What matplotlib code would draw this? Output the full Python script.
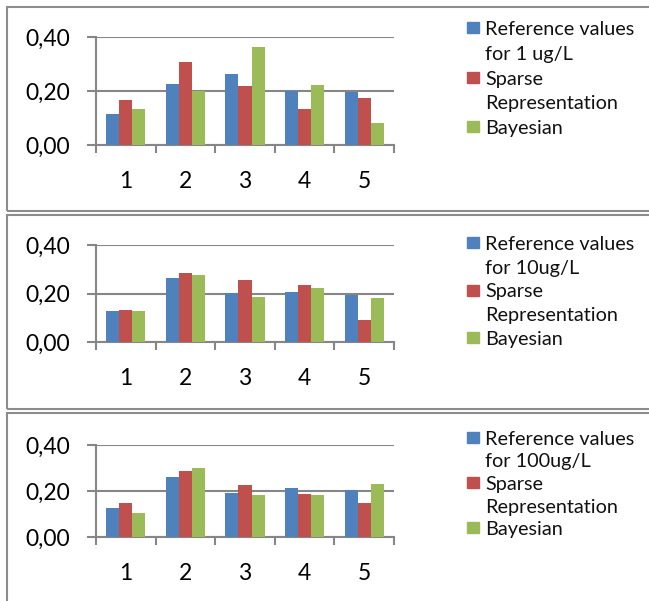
import matplotlib
matplotlib.use('Agg')
import matplotlib.pyplot as plt
import numpy as np
from matplotlib.patches import Rectangle

plt.rcParams['font.family'] = ['Lato', 'DejaVu Sans']

categories = ['1', '2', '3', '4', '5']
y_ticks = [0.0, 0.2, 0.4]
y_tick_labels = ['0,00', '0,20', '0,40']

ref_labels = ['Reference values\nfor 1 ug/L',
              'Reference values\nfor 10ug/L',
              'Reference values\nfor 100ug/L']
sparse_label = 'Sparse\nRepresentation'
bayes_label = 'Bayesian'

# panel 1: 1 ug/L
ref_1 = [0.113, 0.226, 0.263, 0.201, 0.195]
sparse_1 = [0.167, 0.307, 0.217, 0.133, 0.174]
bayes_1 = [0.134, 0.200, 0.362, 0.222, 0.080]

# panel 2: 10 ug/L
ref_10 = [0.129, 0.264, 0.201, 0.208, 0.192]
sparse_10 = [0.133, 0.284, 0.255, 0.234, 0.092]
bayes_10 = [0.127, 0.277, 0.186, 0.223, 0.182]

# panel 3: 100 ug/L
ref_100 = [0.127, 0.263, 0.190, 0.213, 0.204]
sparse_100 = [0.147, 0.285, 0.227, 0.187, 0.150]
bayes_100 = [0.104, 0.298, 0.183, 0.183, 0.229]

colors = ['#4F81BD', '#C0504D', '#9BBB59']
axis_gray = '#868686'

W, H = 649, 601
fig = plt.figure(figsize=(W / 100, H / 100), dpi=100)


def px_rect(x0, y_top, x1, y_bot):
    return [x0 / W, 1 - y_bot / H, (x1 - x0) / W, (y_bot - y_top) / H]


def fy(y):
    return 1 - y / H


# frame top/bottom, plot area top/bottom, legend first baseline and line pitch (pixels)
panels = [
    (7, 211, 37, 145, 35, 24.75, ref_labels[0], ref_1, sparse_1, bayes_1),
    (215, 409, 245, 342, 250, 23.75, ref_labels[1], ref_10, sparse_10, bayes_10),
    (413, 640, 445, 537, 445, 22.5, ref_labels[2], ref_100, sparse_100, bayes_100),
]

x = np.arange(len(categories))
bw = 0.22

for fr_top, fr_bot, ax_top, ax_bot, base0, pitch, rlab, r, s, b in panels:
    fig.patches.append(Rectangle((7 / W, fy(fr_bot)), 1.2, (fr_bot - fr_top) / H,
                                 transform=fig.transFigure, fill=False,
                                 edgecolor='#8c8c8c', linewidth=1.5))
    ax = fig.add_axes(px_rect(96, ax_top, 394, ax_bot))
    ax.bar(x - bw, r, bw, color=colors[0], zorder=3)
    ax.bar(x, s, bw, color=colors[1], zorder=3)
    ax.bar(x + bw, b, bw, color=colors[2], zorder=3)

    ax.set_xlim(-0.5, len(categories) - 0.5)
    ax.set_ylim(0, 0.4)
    ax.set_yticks(y_ticks)
    ax.set_yticklabels(y_tick_labels)
    ax.set_xticks(np.arange(len(categories) + 1) - 0.5)
    ax.set_xticklabels([])
    ax.set_xticks(x, minor=True)
    ax.set_xticklabels(categories, minor=True)
    ax.tick_params(axis='x', which='major', length=6, width=1.5, color=axis_gray, direction='out')
    ax.tick_params(axis='x', which='minor', length=0, pad=19, labelsize=16.5)
    ax.tick_params(axis='y', length=6.5, width=1.5, color=axis_gray, pad=12, labelsize=16.5)
    ax.yaxis.grid(True, color=axis_gray, linewidth=1.5, zorder=0)
    for side in ['top', 'right']:
        ax.spines[side].set_visible(False)
    for side in ['left', 'bottom']:
        ax.spines[side].set_color(axis_gray)
        ax.spines[side].set_linewidth(1.5)
    ax.set_facecolor('none')

    # legend: square aligned with the first line of each entry
    line = 0
    for lab, col in zip([rlab, sparse_label, bayes_label], colors):
        base = base0 + line * pitch
        fig.patches.append(Rectangle((467 / W, fy(base - 2)), 12 / W, 11 / H,
                                     transform=fig.transFigure, color=col))
        for part in lab.split('\n'):
            fig.text(485 / W, fy(base0 + line * pitch), part, fontsize=14.3,
                     va='baseline', ha='left', color='#111111')
            line += 1

fig.savefig('out.png', dpi=100)
